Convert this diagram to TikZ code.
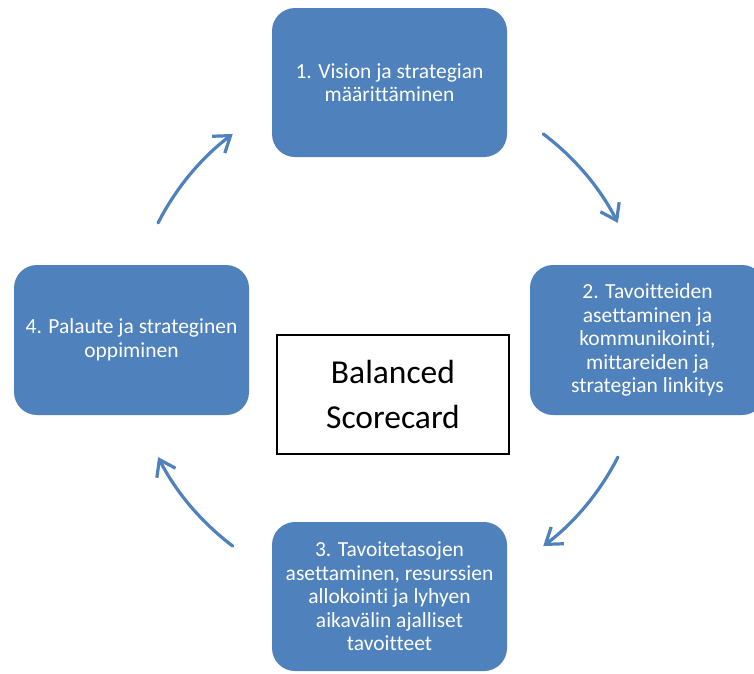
\documentclass[tikz,border=0pt]{standalone}
\usepackage{fontspec}
\setmainfont{Carlito}[Ligatures={NoCommon}]
\usetikzlibrary{arrows.meta,calc}
\definecolor{stepblue}{HTML}{4F81BD}
\begin{document}
\begin{tikzpicture}[x=1pt,y=-1pt,
  stagebox/.style={rectangle, rounded corners=23pt, fill=stepblue, draw=none,
    minimum width=235pt, minimum height=149pt, inner sep=0pt, align=center,
    text=white, font=\fontsize{21.5}{23.5}\selectfont},
  hubbox/.style={rectangle, draw=black, line width=1.6pt, fill=white,
    minimum width=232pt, minimum height=119pt, inner sep=0pt, align=center,
    font=\fontsize{33.5}{45}\selectfont},
  cyclearrow/.style={draw=stepblue, line width=3.2pt, line cap=round,
    -{Straight Barb[length=15pt,width=21pt,line width=3.2pt]}}]
  \clip (0,0) rectangle (754,673);
  \fill[white] (0,0) rectangle (754,673);

  % four stages of the cycle
  \node[stagebox] (s1) at (389.5,82.5) {1. Vision ja strategian\\määrittäminen};
  \node[stagebox, minimum height=150pt] (s2) at (647.5,340) {2. Tavoitteiden\\asettaminen ja\\kommunikointi,\\mittareiden ja\\strategian linkitys};
  \node[stagebox] (s3) at (389.5,596.5) {3. Tavoitetasojen\\asettaminen, resurssien\\allokointi ja lyhyen\\aikavälin ajalliset\\tavoitteet};
  \node[stagebox, minimum height=150pt] (s4) at (131.5,340) {4. Palaute ja strateginen\\oppiminen};

  % centre label
  \node[hubbox] (bsc) at (393,394.5) {Balanced\\Scorecard};

  % circular arrows around the hub
  \coordinate (hub) at (388,340);
  \coordinate (a1) at ($(hub)+(53:258pt)$);
  \coordinate (a2) at ($(hub)+(-27:258pt)$);
  \coordinate (a3) at ($(hub)+(-127:258pt)$);
  \coordinate (a4) at ($(hub)+(153:258pt)$);
  \draw[cyclearrow] (a1) arc[start angle=53, end angle=27, radius=258pt];
  \draw[cyclearrow] (a2) arc[start angle=-27, end angle=-53, radius=258pt];
  \draw[cyclearrow] (a3) arc[start angle=-127, end angle=-153, radius=258pt];
  \draw[cyclearrow] (a4) arc[start angle=153, end angle=127, radius=258pt];
\end{tikzpicture}
\end{document}
